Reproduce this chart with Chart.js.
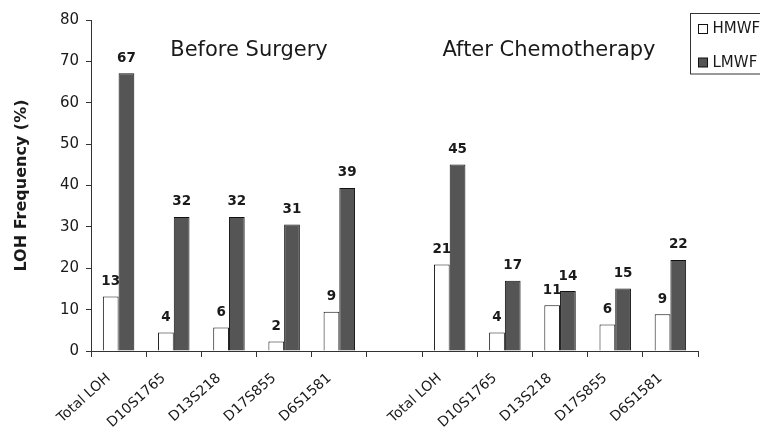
<!DOCTYPE html>
<html>
<head>
<meta charset="utf-8">
<script src="https://cdn.jsdelivr.net/npm/chart.js@4/dist/chart.umd.min.js"></script>
<style>
  html, body { margin: 0; padding: 0; background: #fff; }
  #wrap { width: 760px; height: 431px; position: relative; }
</style>
</head>
<body>
<div id="wrap"><canvas id="c" width="760" height="431"></canvas></div>
<script>
// ---- data ----
const categories = ['Total LOH', 'D10S1765', 'D13S218', 'D17S855', 'D6S1581', '',
                    'Total LOH', 'D10S1765', 'D13S218', 'D17S855', 'D6S1581'];
const seriesNames = ['HMWF', 'LMWF'];
const hmwfValues = [13.2, 4.45, 5.7, 2.3, 9.5, null, 20.9, 4.45, 11.05, 6.4, 8.9];
const lmwfValues = [67.1, 32.4, 32.4, 30.6, 39.4, null, 45.1, 17.0, 14.5, 15.1, 22.0];
const hmwfLabels = ['13', '4', '6', '2', '9', '', '21', '4', '11', '6', '9'];
const lmwfLabels = ['67', '32', '32', '31', '39', '', '45', '17', '14', '15', '22'];
const groupTitles = ['Before Surgery', 'After Chemotherapy'];
const yTicks = { min: 0, max: 80, step: 10 };
const yTitle = 'LOH Frequency (%)';

const FONT = "'DejaVu Sans', 'Liberation Sans', Arial, sans-serif";
const TEXT = '#1a1a1a';
const AXIS = '#333333';

const valueLabels = {
  id: 'valueLabels',
  afterDatasetsDraw(chart) {
    const ctx = chart.ctx;
    const lists = [hmwfLabels, lmwfLabels];
    ctx.save();
    ctx.font = 'bold 13.5px ' + FONT;
    ctx.fillStyle = TEXT;
    ctx.textAlign = 'center';
    ctx.textBaseline = 'alphabetic';
    chart.data.datasets.forEach((ds, di) => {
      const meta = chart.getDatasetMeta(di);
      meta.data.forEach((bar, i) => {
        const t = lists[di][i];
        if (!t || ds.data[i] == null) return;
        ctx.fillText(t, bar.x, bar.y - 11.5);
      });
    });
    ctx.restore();
  }
};

const groupTitlePlugin = {
  id: 'groupTitles',
  afterDraw(chart) {
    const ctx = chart.ctx;
    ctx.save();
    ctx.font = '21px ' + FONT;
    ctx.fillStyle = TEXT;
    ctx.textAlign = 'center';
    ctx.textBaseline = 'alphabetic';
    ctx.fillText(groupTitles[0], 249, 56);
    ctx.fillText(groupTitles[1], 549, 56);
    ctx.restore();
  }
};

const boxLegend = {
  id: 'boxLegend',
  afterDraw(chart) {
    const ctx = chart.ctx;
    ctx.save();
    ctx.strokeStyle = '#333';
    ctx.lineWidth = 1;
    ctx.strokeRect(690.5, 13.5, 120, 60.5);
    ctx.font = '15px ' + FONT;
    ctx.textBaseline = 'middle';
    ctx.textAlign = 'left';
    const ys = [29, 62.5];
    chart.data.datasets.forEach((ds, i) => {
      ctx.fillStyle = ds.backgroundColor;
      ctx.fillRect(698.5, ys[i] - 4.5, 9, 9);
      ctx.strokeStyle = ds.borderColor;
      ctx.strokeRect(698.5, ys[i] - 4.5, 9, 9);
      ctx.fillStyle = TEXT;
      ctx.fillText(ds.label, 712.5, ys[i] + 0.5);
    });
    ctx.restore();
  }
};

new Chart(document.getElementById('c'), {
  type: 'bar',
  data: {
    labels: categories,
    datasets: [
      { label: seriesNames[0], data: hmwfValues, backgroundColor: '#ffffff', borderColor: '#111111', borderWidth: 1,
        categoryPercentage: 0.57, barPercentage: 1.0 },
      { label: seriesNames[1], data: lmwfValues, backgroundColor: '#555555', borderColor: '#111111', borderWidth: 1,
        categoryPercentage: 0.57, barPercentage: 1.0 }
    ]
  },
  options: {
    responsive: false,
    animation: false,
    devicePixelRatio: 1,
    layout: { padding: { left: 0, right: 62, top: 20, bottom: 0 } },
    plugins: {
      legend: { display: false },
      tooltip: { enabled: false },
      title: { display: false }
    },
    scales: {
      x: {
        grid: { display: true, drawOnChartArea: false, drawTicks: true, tickLength: 6, color: AXIS, offset: true },
        border: { display: true, color: AXIS, width: 1 },
        ticks: { color: TEXT, font: { family: FONT, size: 14 }, autoSkip: false,
                 minRotation: 42, maxRotation: 42, padding: 13, labelOffset: -10 },
        afterFit(scale) { scale.height = 80; }
      },
      y: {
        min: yTicks.min, max: yTicks.max,
        grid: { display: true, drawOnChartArea: false, drawTicks: true, tickLength: 5, color: AXIS },
        border: { display: true, color: AXIS, width: 1 },
        ticks: { stepSize: yTicks.step, color: TEXT, font: { family: FONT, size: 15 }, padding: 7 },
        title: { display: true, text: yTitle, color: TEXT, font: { family: FONT, size: 16, weight: 'bold' },
                 padding: { top: 12, bottom: 0 } },
        afterFit(scale) { scale.width = 91; }
      }
    }
  },
  plugins: [valueLabels, groupTitlePlugin, boxLegend]
});
</script>
</body>
</html>
